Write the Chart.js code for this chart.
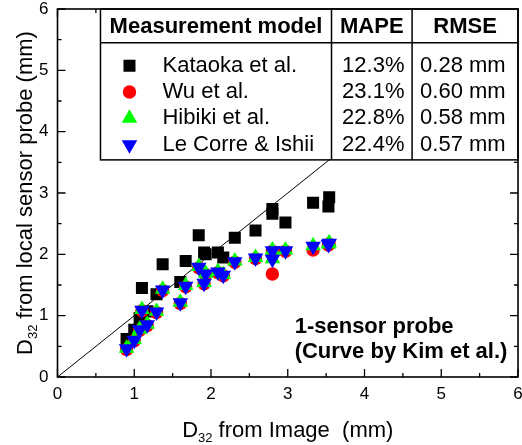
<!DOCTYPE html>
<html>
<head>
<meta charset="utf-8">
<script src="https://cdn.jsdelivr.net/npm/chart.js@4.4.1/dist/chart.umd.min.js"></script>
<style>
  html, body { margin: 0; padding: 0; background: #fff; }
  #wrap { width: 522px; height: 445px; }
</style>
</head>
<body>
<div id="wrap"><canvas id="myChart" width="522" height="445"></canvas></div>
<script>
// D32 from image (mm) -> D32 from local sensor probe (mm), per measurement model
const imageX   = [0.90, 1.00, 1.07, 1.10, 1.17, 1.29, 1.37, 1.60, 1.67, 1.84, 1.91, 1.93, 2.09, 2.16, 2.31, 2.58, 2.80, 2.80, 2.97, 3.33, 3.53, 3.54];
const kataokaY = [0.62, 0.77, 0.96, 1.45, 1.07, 1.35, 1.84, 1.55, 1.89, 2.31, 2.03, 2.00, 2.03, 1.95, 2.27, 2.39, 2.74, 2.66, 2.52, 2.84, 2.78, 2.93];
const wuY      = [0.45, 0.59, 0.76, 1.08, 0.84, 1.05, 1.41, 1.20, 1.47, 1.78, 1.52, 1.67, 1.70, 1.65, 1.87, 1.93, 2.05, 1.68, 2.05, 2.07, 2.15, 2.17];
const hibikiY  = [0.47, 0.61, 0.78, 1.10, 0.86, 1.07, 1.43, 1.22, 1.49, 1.80, 1.54, 1.69, 1.72, 1.67, 1.89, 1.95, 2.07, 1.93, 2.07, 2.14, 2.17, 2.19];
const leCorreY = [0.46, 0.60, 0.77, 1.09, 0.85, 1.06, 1.42, 1.21, 1.48, 1.79, 1.53, 1.68, 1.71, 1.66, 1.88, 1.94, 2.06, 1.92, 2.06, 2.13, 2.16, 2.18];
const parityLine = [0, 6];

// axis ticks (major labelled, minor unlabelled)
const majorTicks = [0, 1, 2, 3, 4, 5, 6];
const minorTicks = [0.5, 1.5, 2.5, 3.5, 4.5, 5.5];

// table
const models  = ['Kataoka et al.', 'Wu et al.', 'Hibiki et al.', 'Le Corre & Ishii'];
const mape    = ['12.3%', '23.1%', '22.8%', '22.4%'];
const rmse    = ['0.28 mm', '0.60 mm', '0.58 mm', '0.57 mm'];
const headers = ['Measurement model', 'MAPE', 'RMSE'];
const noteLines = ['1-sensor probe', '(Curve by Kim et al.)'];

const FONT = '"Liberation Sans", Arial, sans-serif';

function toPoints(xs, ys) {
    return xs.map((x, i) => ({ x: x, y: ys[i] }));
}

// marker drawing for the table legend (same shapes as the chart points)
function drawMarker(ctx, ds, cx, cy) {
    const r = ds.pointRadius;
    ctx.save();
    ctx.fillStyle = ds.backgroundColor;
    ctx.beginPath();
    if (ds.pointStyle === 'rect') {
        const s = Math.SQRT1_2 * r;
        ctx.rect(cx - s, cy - s, 2 * s, 2 * s);
    } else if (ds.pointStyle === 'circle') {
        ctx.arc(cx, cy, r, 0, Math.PI * 2);
    } else {
        let rad = (ds.pointRotation || 0) * Math.PI / 180;
        ctx.moveTo(cx + Math.sin(rad) * r, cy - Math.cos(rad) * r);
        for (let k = 0; k < 2; k++) {
            rad += 2 * Math.PI / 3;
            ctx.lineTo(cx + Math.sin(rad) * r, cy - Math.cos(rad) * r);
        }
        ctx.closePath();
    }
    ctx.fill();
    ctx.restore();
}

// text with a subscript part: [main, sub, rest], centred on x
function drawSubText(ctx, parts, size, subSize, x, y) {
    ctx.font = size + 'px ' + FONT;
    const w0 = ctx.measureText(parts[0]).width;
    const w2 = ctx.measureText(parts[2]).width;
    ctx.font = subSize + 'px ' + FONT;
    const w1 = ctx.measureText(parts[1]).width;
    let cx = x - (w0 + w1 + w2) / 2;
    ctx.textAlign = 'left';
    ctx.textBaseline = 'alphabetic';
    ctx.font = size + 'px ' + FONT;
    ctx.fillText(parts[0], cx, y);
    cx += w0;
    ctx.font = subSize + 'px ' + FONT;
    ctx.fillText(parts[1], cx, y + 5);
    cx += w1;
    ctx.font = size + 'px ' + FONT;
    ctx.fillText(parts[2], cx, y);
}

const overlayPlugin = {
    id: 'overlay',
    afterDatasetsDraw(chart) {
        const ctx = chart.ctx;
        const a = chart.chartArea;
        const xs = chart.scales.x;
        const ys = chart.scales.y;
        const sets = chart.data.datasets;

        ctx.save();
        ctx.fillStyle = '#000';
        ctx.strokeStyle = '#000';

        // ---- table box
        const tl = xs.getPixelForValue(0.56), tr = xs.getPixelForValue(6);
        const tt = ys.getPixelForValue(6), tb = ys.getPixelForValue(3.54);
        const hy = ys.getPixelForValue(5.45);
        const c1 = xs.getPixelForValue(3.57), c2 = xs.getPixelForValue(4.62);
        ctx.fillStyle = '#fff';
        ctx.fillRect(tl, tt, tr - tl, tb - tt);
        ctx.fillStyle = '#000';
        ctx.lineWidth = 1.5;
        ctx.strokeRect(tl, tt, tr - tl, tb - tt);
        ctx.beginPath();
        ctx.moveTo(tl, hy); ctx.lineTo(tr, hy);
        ctx.moveTo(c1, tt); ctx.lineTo(c1, tb);
        ctx.moveTo(c2, tt); ctx.lineTo(c2, tb);
        ctx.stroke();

        ctx.textBaseline = 'middle';
        ctx.font = 'bold 22px ' + FONT;
        ctx.textAlign = 'center';
        const headY = (tt + hy) / 2 + 1;
        ctx.fillText(headers[0], (tl + c1) / 2, headY);
        ctx.fillText(headers[1], (c1 + c2) / 2, headY);
        ctx.fillText(headers[2], (c2 + tr) / 2, headY);

        ctx.font = '22px ' + FONT;
        models.forEach((name, i) => {
            const ry = hy + 23 + i * 26.3;
            drawMarker(ctx, sets[i], tl + 29, ry);
            ctx.textAlign = 'left';
            ctx.fillText(name, tl + 62, ry);
            ctx.textAlign = 'right';
            ctx.fillText(mape[i], c1 + 73, ry);
            ctx.textAlign = 'left';
            ctx.fillText(rmse[i], c2 + 8, ry);
        });

        // ---- frame with inward ticks on all sides
        ctx.lineWidth = 1.6;
        ctx.strokeRect(a.left, a.top, a.right - a.left, a.bottom - a.top);
        ctx.lineWidth = 1.3;
        ctx.beginPath();
        const tick = (v, len) => {
            const px = xs.getPixelForValue(v);
            const py = ys.getPixelForValue(v);
            ctx.moveTo(px, a.bottom); ctx.lineTo(px, a.bottom - len);
            if (px < tl - 1 || px > tr) { ctx.moveTo(px, a.top); ctx.lineTo(px, a.top + len); }
            ctx.moveTo(a.left, py); ctx.lineTo(a.left + len, py);
            if (py > tb) { ctx.moveTo(a.right, py); ctx.lineTo(a.right - len, py); }
        };
        majorTicks.forEach(v => tick(v, 8));
        minorTicks.forEach(v => tick(v, 4));
        ctx.stroke();

        // ---- note text
        ctx.font = 'bold 22px ' + FONT;
        ctx.textAlign = 'left';
        ctx.textBaseline = 'alphabetic';
        const nx = xs.getPixelForValue(3.09), ny = ys.getPixelForValue(0.72);
        ctx.fillText(noteLines[0], nx, ny);
        ctx.fillText(noteLines[1], nx, ny + 25);

        // ---- axis titles (with subscripts)
        drawSubText(ctx, ['D', '32', ' from Image  (mm)'], 22, 13, (a.left + a.right) / 2, 437);
        ctx.save();
        ctx.translate(32, (a.top + a.bottom) / 2);
        ctx.rotate(-Math.PI / 2);
        drawSubText(ctx, ['D', '32', ' from local sensor probe (mm)'], 22, 13, 0, 0);
        ctx.restore();

        ctx.restore();
    }
};

const tickFont = { family: FONT, size: 17 };

// keep the plot frame where the layout padding puts it (no extra room for edge labels)
function noLabelPadding(s) {
    s.paddingTop = 0;
    s.paddingBottom = 0;
    s.paddingLeft = 0;
    s.paddingRight = 0;
}

new Chart(document.getElementById('myChart').getContext('2d'), {
    type: 'scatter',
    data: {
        datasets: [
            { label: models[0], data: toPoints(imageX, kataokaY), pointStyle: 'rect', pointRadius: 8.5,
              backgroundColor: '#000000', borderColor: '#000000', borderWidth: 0, order: 4 },
            { label: models[1], data: toPoints(imageX, wuY), pointStyle: 'circle', pointRadius: 6.7,
              backgroundColor: '#ff0000', borderColor: '#ff0000', borderWidth: 0, order: 3 },
            { label: models[2], data: toPoints(imageX, hibikiY), pointStyle: 'triangle', pointRadius: 9,
              backgroundColor: '#00ff00', borderColor: '#00ff00', borderWidth: 0, order: 2 },
            { label: models[3], data: toPoints(imageX, leCorreY), pointStyle: 'triangle', pointRotation: 180, pointRadius: 9,
              backgroundColor: '#0000ff', borderColor: '#0000ff', borderWidth: 0, order: 1 },
            { label: 'y = x', data: toPoints(parityLine, parityLine), showLine: true, pointRadius: 0,
              borderColor: '#000000', borderWidth: 1, fill: false, order: 5 }
        ]
    },
    options: {
        responsive: false,
        animation: false,
        devicePixelRatio: 1,
        // no auto padding for point radius, frame sits where the padding says
        layout: { autoPadding: false, padding: { top: 9, right: 4, left: 0, bottom: 0 } },
        plugins: { legend: { display: false }, tooltip: { enabled: false } },
        scales: {
            x: {
                min: 0, max: 6,
                ticks: { stepSize: 1, color: '#000', font: tickFont, padding: 7, maxRotation: 0 },
                grid: { display: false, drawTicks: false },
                border: { display: false },
                afterFit(s) { s.height = 68; noLabelPadding(s); }
            },
            y: {
                min: 0, max: 6,
                ticks: { stepSize: 1, color: '#000', font: tickFont, padding: 9 },
                grid: { display: false, drawTicks: false },
                border: { display: false },
                afterFit(s) { s.width = 57.5; noLabelPadding(s); }
            }
        }
    },
    plugins: [overlayPlugin]
});
</script>
</body>
</html>
